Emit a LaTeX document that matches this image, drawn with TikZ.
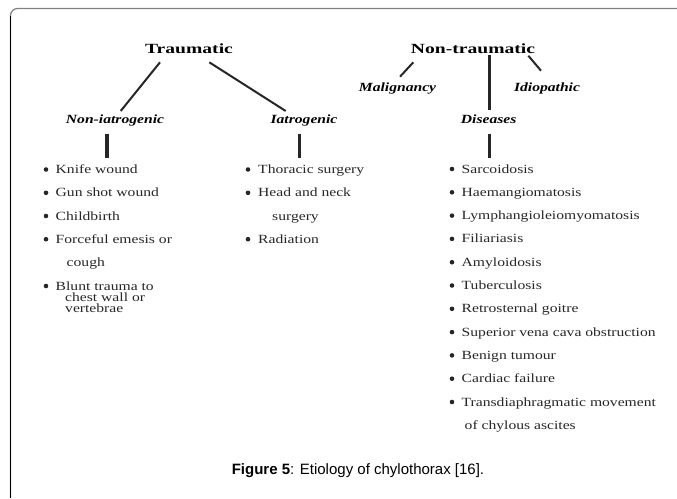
\documentclass[tikz,border=0pt]{standalone}
\usepackage{fontspec}
\setmainfont{Liberation Serif}
\newfontfamily\titlefont[FakeStretch=1.4]{Liberation Serif}
\newfontfamily\stretchfont[FakeStretch=1.25]{Liberation Serif}
\newfontfamily\capfont{Liberation Sans}
\begin{document}
\begin{tikzpicture}[x=1pt,y=-1pt,
  titletext/.style={font=\titlefont\bfseries\fontsize{14}{16}\selectfont, anchor=base, inner sep=0pt},
  subtext/.style={font=\stretchfont\bfseries\itshape\fontsize{12.5}{14}\selectfont, anchor=base, inner sep=0pt},
  itemtext/.style={font=\stretchfont\fontsize{12.5}{14}\selectfont, anchor=base west, inner sep=0pt, text=black!85},
  link/.style={line width=2pt, black!85},
  bar/.style={line width=3.5pt, black!85},
  bulletdot/.style={fill=black!85}
]
\useasboundingbox (0,0) rectangle (677,498);
% frame
\draw[gray, line width=1.2pt, rounded corners=7pt] (10.5,498) -- (10.5,8.5) -- (677,8.5);
\draw[black, line width=1pt] (10.5,498) -- (10.5,16);

% headings
\node[titletext] (trau) at (189,53) {Traumatic};
\node[titletext] (nontrau) at (473,53) {Non-traumatic};
\node[subtext] (noniat) at (115,123) {Non-iatrogenic};
\node[subtext] (iat) at (304,123) {Iatrogenic};
\node[subtext] (malig) at (397.5,91.5) {Malignancy};
\node[subtext] (idio) at (547,91.5) {Idiopathic};
\node[subtext] (dis) at (488.7,123) {Diseases};

% connector end points
\coordinate (t1) at (160,62.3);
\coordinate (t2) at (120.7,111);
\coordinate (t3) at (209.3,62.3);
\coordinate (t4) at (285.7,111);
\coordinate (m1) at (413.3,62.3);
\coordinate (m2) at (400,76.7);
\coordinate (i1) at (528.3,55.7);
\coordinate (i2) at (541,70.7);
\coordinate (d1) at (489.3,55);
\coordinate (d2) at (489.3,110);
\coordinate (b1) at (107,133.5);
\coordinate (b2) at (107,158.3);
\coordinate (b3) at (299.3,133.5);
\coordinate (b4) at (299.3,158.3);
\coordinate (b5) at (489.5,133.5);
\coordinate (b6) at (489.5,158.3);

\draw[link] (t1) -- (t2);
\draw[link] (t3) -- (t4);
\draw[link] (m1) -- (m2);
\draw[link] (i1) -- (i2);
\draw[line width=3pt, black!85] (d1) -- (d2);
\draw[bar] (b1) -- (b2);
\draw[bar] (b3) -- (b4);
\draw[bar] (b5) -- (b6);

% left list
\node[itemtext] (l1) at (55.5,173.5) {Knife wound};
\node[itemtext] (l2) at (55.5,196.8) {Gun shot wound};
\node[itemtext] (l3) at (55.5,220) {Childbirth};
\node[itemtext] (l4) at (55.5,243.2) {Forceful emesis or};
\node[itemtext] (l4b) at (66.5,266) {cough};
\node[itemtext] (l5) at (55.5,290) {Blunt trauma to};
\node[itemtext] (l5b) at (65,301) {chest wall or};
\node[itemtext] (l5c) at (65,312) {vertebrae};
\foreach \y in {173.5,196.8,220,243.2,290} \fill[bulletdot] (46,\y-4) circle (2.3pt);

% middle list
\node[itemtext] (c1) at (258,173.5) {Thoracic surgery};
\node[itemtext] (c2) at (258,196.8) {Head and neck};
\node[itemtext] (c2b) at (272,220) {surgery};
\node[itemtext] (c3) at (258,243.2) {Radiation};
\foreach \y in {173.5,196.8,243.2} \fill[bulletdot] (248,\y-4) circle (2.3pt);

% right list
\foreach \t [count=\k from 0] in {Sarcoidosis,Haemangiomatosis,Lymphangioleiomyomatosis,Filiariasis,Amyloidosis,Tuberculosis,Retrosternal goitre,Superior vena cava obstruction,Benign tumour,Cardiac failure,Transdiaphragmatic movement}{
  \node[itemtext] (r\k) at (461.5,173+23.3*\k) {\t};
  \fill[bulletdot] (452,169+23.3*\k) circle (2.3pt);
}
\node[itemtext] (r11) at (464.5,429.3) {of chylous ascites};

% caption
\node[font=\capfont\fontsize{15}{17}\selectfont, anchor=base, inner sep=0pt] (cap) at (358,474.3) {\textbf{Figure 5}: Etiology of chylothorax [16].};
\end{tikzpicture}
\end{document}
